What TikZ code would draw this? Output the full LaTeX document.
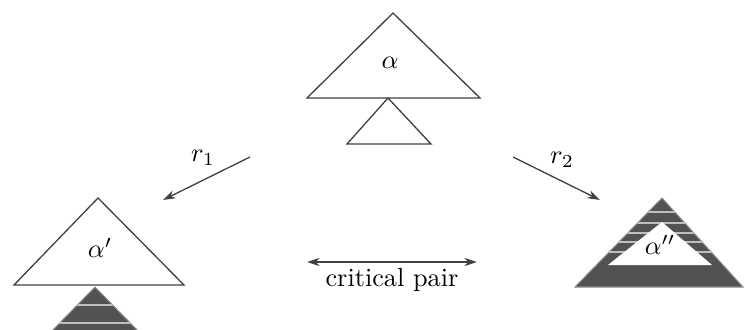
\documentclass[tikz,border=0pt]{standalone}
\usetikzlibrary{arrows.meta}

\begin{document}
\begin{tikzpicture}[
  x=0.0134cm, y=-0.0134cm,
  tri/.style={draw=black!75, line width=0.5pt, line join=miter},
  shaded/.style={fill=black!68, draw=black!45, line width=0.4pt},
  stripe/.style={draw=black!25, line width=0.45pt},
  arrow/.style={-{Stealth[length=1.7mm, width=1.1mm]}, draw=black!75, line width=0.5pt},
  lbl/.style={inner sep=1pt},
]
\clip (0,0) rectangle (745,330);

% === TOP: alpha with its subtree ===
\coordinate (tA) at (393,13);
\coordinate (tS) at (388,98);
\draw[tri] (tA) -- (480,98) -- (307,98) -- cycle;
\node[lbl] (alpha) at (390,63) {$\alpha$};
\draw[tri] (tS) -- (431,144) -- (347,144) -- cycle;

% === LEFT: alpha' with rewritten subtree ===
\coordinate (lA) at (98,198);
\coordinate (lS) at (95,287);
\draw[tri] (lA) -- (184,285) -- (14,285) -- cycle;
\node[lbl] (alphaL) at (100,248) {$\alpha'$};
\fill[shaded] (lS) -- (140,333) -- (50,333) -- cycle;
\begin{scope}
  \clip (lS) -- (140,333) -- (50,333) -- cycle;
  \foreach \yy in {305,323}
    \draw[stripe] (40,\yy) -- (150,\yy);
\end{scope}

% === RIGHT: alpha'' fully rewritten ===
\coordinate (rA) at (662,198);
\fill[shaded] (rA) -- (743,287) -- (575,287) -- cycle;
\begin{scope}
  \clip (rA) -- (743,287) -- (575,287) -- cycle;
  \foreach \yy in {212,223,233,242,252}
    \draw[stripe] (570,\yy) -- (745,\yy);
\end{scope}
\fill[white] (662,222) -- (712,265) -- (608,265) -- cycle;
\node[lbl] (alphaR) at (660,245) {$\alpha''$};

% === REWRITE STEPS ===
\coordinate (r1s) at (250,157);
\coordinate (r1e) at (163,200);
\coordinate (r2s) at (513,157);
\coordinate (r2e) at (600,200);
\draw[arrow] (r1s) -- (r1e);
\draw[arrow] (r2s) -- (r2e);
\node[lbl] (r1) at (203,158) {$r_1$};
\node[lbl] (r2) at (562,160) {$r_2$};

% critical pair
\coordinate (cpL) at (307,262);
\coordinate (cpR) at (477,262);
\draw[arrow, {Stealth[length=1.7mm, width=1.1mm]}-{Stealth[length=1.7mm, width=1.1mm]}] (cpL) -- (cpR);
\node[lbl] (cp) at (392,280) {critical pair};
\end{tikzpicture}
\end{document}
